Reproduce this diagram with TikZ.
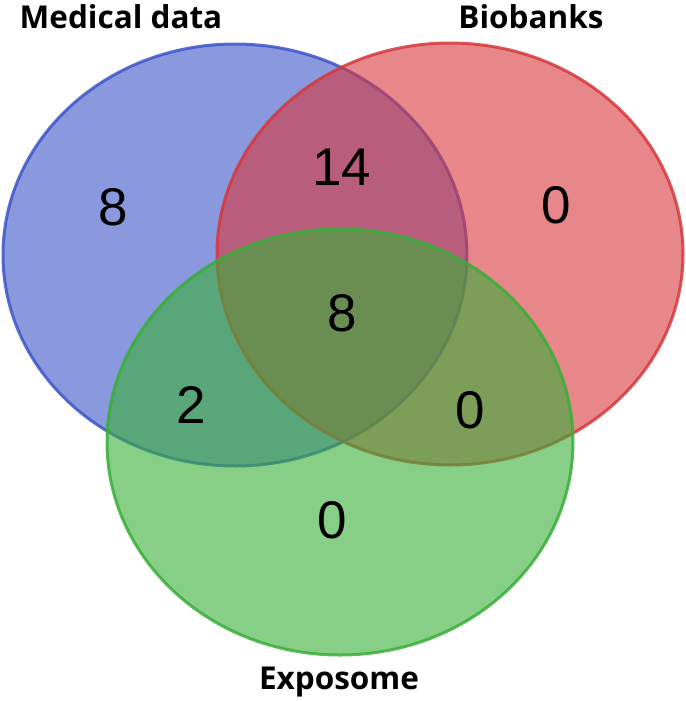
\documentclass[tikz,border=0pt]{standalone}
\usepackage{fontspec}
\setmainfont{Liberation Sans}
\newfontfamily\labelfont{Open Sans}
\definecolor{setblue}{RGB}{60,85,200}
\definecolor{setred}{RGB}{215,55,60}
\definecolor{setgreen}{RGB}{55,175,55}
\tikzset{
    setcircle/.style={fill=#1, fill opacity=0.6, draw=#1, draw opacity=0.85, line width=3pt},
    count/.style={font=\fontsize{53}{60}\selectfont, text=black},
    setname/.style={font=\labelfont\bfseries\fontsize{31.5}{36}\selectfont, text=black}
}
\begin{document}
\begin{tikzpicture}[x=1pt, y=-1pt]
    \useasboundingbox (0,0) rectangle (685,701);
    % the three sets
    \coordinate (medical) at (235,255);
    \coordinate (biobank) at (450,254);
    \coordinate (exposome) at (340,442);
    \draw [setcircle=setblue] (medical) ellipse [x radius=232, y radius=211];
    \draw [setcircle=setred] (biobank) ellipse [x radius=233, y radius=211];
    \draw [setcircle=setgreen] (exposome) ellipse [x radius=233, y radius=213];

    % set names
    \node [setname] (medicalname) at (121,17) {Medical data};
    \node [setname] (biobankname) at (531,17) {Biobanks};
    \node [setname] (exposomename) at (339,682) {Exposome};

    % counts
    \node [count] (onlymedical) at (113,207) {8};
    \node [count] (medicalbiobank) at (342,167) {14};
    \node [count] (onlybiobank) at (556,205) {0};
    \node [count] (allthree) at (342,313) {8};
    \node [count] (medicalexposome) at (191,405) {2};
    \node [count] (biobankexposome) at (470,410) {0};
    \node [count] (onlyexposome) at (332,520) {0};
\end{tikzpicture}
\end{document}
